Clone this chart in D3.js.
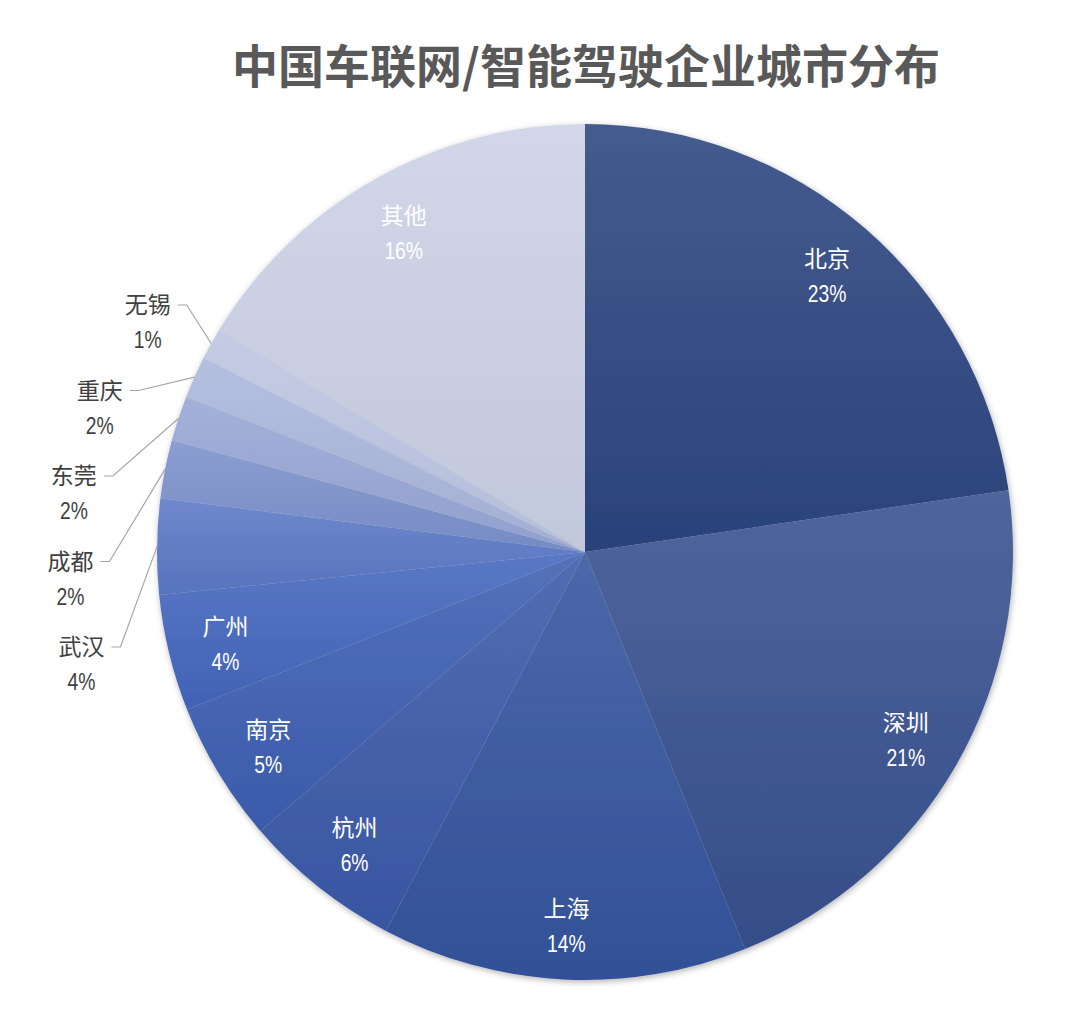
<!DOCTYPE html>
<meta charset="utf-8">
<head>
  <script src="https://d3js.org/d3.v7.min.js"></script>
<style>
body { margin: 0; background: #fff; }
.title { font-family: "Noto Sans CJK SC", "Noto Sans", sans-serif; font-weight: bold; fill: #595959; }
.lbl { font-family: "Noto Sans CJK SC", "Noto Sans", sans-serif; }
.pct { font-family: "Liberation Sans", "Noto Sans", sans-serif; }
</style>
</head>
<body>
<script>

// Data
var cities = ["北京", "深圳", "上海", "杭州", "南京", "广州", "武汉", "成都", "东莞", "重庆", "无锡", "其他"];
var shares = [22.7, 21.2, 13.8, 6.0, 5.3, 4.4, 3.6, 2.2, 1.7, 1.6, 1.2, 16.3];
var outside = ["武汉", "成都", "东莞", "重庆", "无锡"];

// slice colours (base tone of each gradient)
var palette = ["#2c457f", "#37508e", "#34539e", "#3a59a8", "#3d5eb1", "#4466bd",
               "#5b78c6", "#7b91cc", "#96a6d5", "#aab6dc", "#bcc5e2", "#cbd1e5"];

var width = 1080, height = 1014;
var cx = 585, cy = 552, radius = 428;

var svg = d3.select("body").append("svg")
    .attr("width", width)
    .attr("height", height);

var defs = svg.append("defs");

var shadow = defs.append("filter").attr("id", "shadow")
    .attr("x", "-10%").attr("y", "-10%").attr("width", "120%").attr("height", "120%");
shadow.append("feDropShadow")
    .attr("dx", 1).attr("dy", 2).attr("stdDeviation", 3)
    .attr("flood-color", "#000").attr("flood-opacity", 0.3);

palette.forEach(function(c, i) {
  var gr = defs.append("linearGradient").attr("id", "grad" + i)
      .attr("x1", 0).attr("y1", 0).attr("x2", 0).attr("y2", 1);
  gr.append("stop").attr("offset", "0%").attr("stop-color", d3.interpolateRgb(c, "#ffffff")(0.12));
  gr.append("stop").attr("offset", "100%").attr("stop-color", d3.color(c).darker(0.12));
});

// Title
svg.append("text")
    .attr("class", "title")
    .attr("x", cx + 1)
    .attr("y", 83)
    .attr("text-anchor", "middle")
    .style("font-size", "46px")
    .text("中国车联网/智能驾驶企业城市分布");

var data = cities.map(function(c, i) { return {city: c, value: shares[i], idx: i}; });

var pie = d3.pie()
    .sort(null)
    .value(function(d) { return d.value; });

var arcs = pie(data);
var total = d3.sum(shares);
var fmt = d3.format(".0%");

var arc = d3.arc().innerRadius(0).outerRadius(radius);
var labelArc = d3.arc().innerRadius(370).outerRadius(370);

var g = svg.append("g")
    .attr("transform", "translate(" + cx + "," + cy + ")");

g.append("g")
    .attr("filter", "url(#shadow)")
  .selectAll("path")
    .data(arcs)
    .enter().append("path")
    .attr("d", arc)
    .attr("fill", function(d) { return "url(#grad" + d.data.idx + ")"; });

// label = city name over a narrow percentage
function addLabel(sel, colour) {
  sel.append("text")
      .attr("class", "lbl")
      .attr("text-anchor", "middle")
      .attr("y", -5)
      .style("font-size", "23px")
      .attr("fill", colour)
      .text(function(d) { return d.data.city; });

  sel.append("text")
      .attr("class", "pct")
      .attr("text-anchor", "middle")
      .attr("transform", "translate(0,30) scale(0.84,1)")
      .style("font-size", "23px")
      .attr("fill", colour)
      .text(function(d) { return fmt(d.data.value / total); });
}

// Inside labels
var inside = arcs.filter(function(d) { return outside.indexOf(d.data.city) < 0; });

var inl = g.selectAll(".inl")
    .data(inside)
    .enter().append("g")
    .attr("class", "inl")
    .attr("transform", function(d) { return "translate(" + labelArc.centroid(d) + ")"; });
addLabel(inl, "#fff");

// Outside labels, stacked on the left
var outArcs = arcs.filter(function(d) { return outside.indexOf(d.data.city) >= 0; });
var yPos = d3.scalePoint().domain(outside).range([108, -234]);
var labelR = 515;

outArcs.forEach(function(d) {
  var y = yPos(d.data.city);
  // nudge upper labels toward the pie the way the original does
  d.lx = -Math.sqrt(labelR * labelR - y * y) + Math.max(0, -y - 100) * 0.16;
  d.ly = y;
});

var outl = g.selectAll(".outl")
    .data(outArcs)
    .enter().append("g")
    .attr("class", "outl")
    .attr("transform", function(d) { return "translate(" + d.lx + "," + d.ly + ")"; });
addLabel(outl, "#404040");

// Leader lines
var edge = d3.arc().innerRadius(radius).outerRadius(radius);
g.selectAll(".leader")
    .data(outArcs)
    .enter().append("polyline")
    .attr("class", "leader")
    .attr("fill", "none")
    .attr("stroke", "#a6a6a6")
    .attr("stroke-width", 1.2)
    .attr("points", function(d) {
      var sx = d.lx + 30, sy = d.ly - 13;
      var e = edge.centroid(d);
      return [[sx, sy], [sx + 9, sy], [e[0] - cx + cx, e[1]]].join(" ");
    });

</script>
</body>
